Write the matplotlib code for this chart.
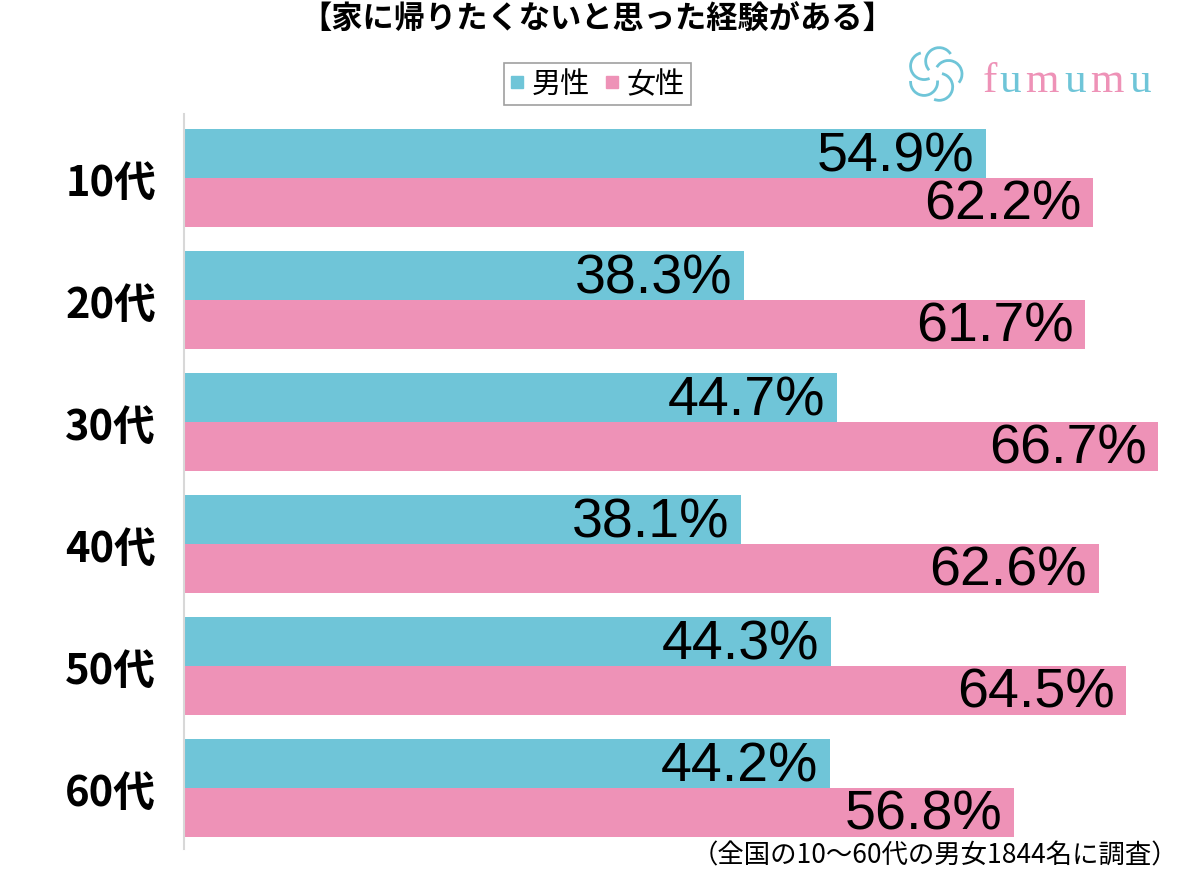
import matplotlib
matplotlib.use("Agg")
import matplotlib.pyplot as plt
from matplotlib.lines import Line2D
from matplotlib.patches import Arc
import numpy as np

plt.rcParams['font.family'] = ['Noto Sans CJK JP', 'DejaVu Sans']

# データ
ages = ['10代', '20代', '30代', '40代', '50代', '60代']
male = [54.9, 38.3, 44.7, 38.1, 44.3, 44.2]
female = [62.2, 61.7, 66.7, 62.6, 64.5, 56.8]
series_names = ['男性', '女性']
title = '【家に帰りたくないと思った経験がある】'
note = '（全国の10〜60代の男女1844名に調査）'

c_male = '#6fc5d8'
c_female = '#ee92b7'

fig = plt.figure(figsize=(12, 8.7), dpi=100)
ax = fig.add_axes([184/1200, 1-850/870, 1-184/1200, (850-115)/870])

y = np.arange(len(ages))
h = 0.4
ax.barh(y - h/2, male, height=h, color=c_male)
ax.barh(y + h/2, female, height=h, color=c_female)

# 値ラベル
for i in range(len(ages)):
    for v, yy in ((male[i], y[i] - h/2), (female[i], y[i] + h/2)):
        ax.text(v - 0.8, yy + 0.02, '{:.1f}%'.format(v), ha='right', va='center',
                fontsize=40, family=['Liberation Sans', 'DejaVu Sans'], color='black')

ax.set_xlim(0, 1016/14.61)
ax.set_ylim(5.5, -0.525)
ax.set_yticks(y)
ax.set_yticklabels(ages, fontsize=30, fontweight='bold')
ax.tick_params(axis='y', length=0, pad=20)
ax.set_xticks([])
for s in ['top', 'right', 'bottom']:
    ax.spines[s].set_visible(False)
ax.spines['left'].set_color('#d8d8d8')
ax.spines['left'].set_linewidth(1.5)

fig.text(0.498, 0.977, title, ha='center', va='center', fontsize=22.5, fontweight='bold')

handles = [Line2D([], [], marker='s', linestyle='none', markersize=8, color=c_male),
           Line2D([], [], marker='s', linestyle='none', markersize=8, color=c_female)]
leg = fig.legend(handles, series_names, loc='center', bbox_to_anchor=(0.498, 0.902), ncol=2,
                 fontsize=21, frameon=True, fancybox=False, handlelength=0.5,
                 handletextpad=0.25, columnspacing=0.5, borderpad=0.2, borderaxespad=0)
leg.get_frame().set_edgecolor('#888888')
leg.get_frame().set_linewidth(1.2)

fig.text(0.982, 0.016, note, ha='right', va='center', fontsize=19)

# ロゴ
x = 983
for k, ch in enumerate('fumumu'):
    fig.text(x/1200, 1-92/870, ch, ha='left', va='baseline', fontsize=31,
             family='Liberation Serif', color=c_female if k % 2 == 0 else c_male)
    x += {'f': 16, 'u': 26, 'm': 39}[ch]

lax = fig.add_axes([905/1200, 1-105/870, 60/1200, 60/870])
lax.set_xlim(-1, 1)
lax.set_ylim(-1, 1)
lax.set_aspect('equal')
lax.axis('off')
for a in np.arange(0, 360, 72):
    t = np.deg2rad(a)
    lax.add_patch(Arc((0.45*np.cos(t), 0.45*np.sin(t)), 0.9, 0.9, angle=a,
                      theta1=-40, theta2=150, color=c_male, lw=2))

fig.savefig('out.png', dpi=100)
